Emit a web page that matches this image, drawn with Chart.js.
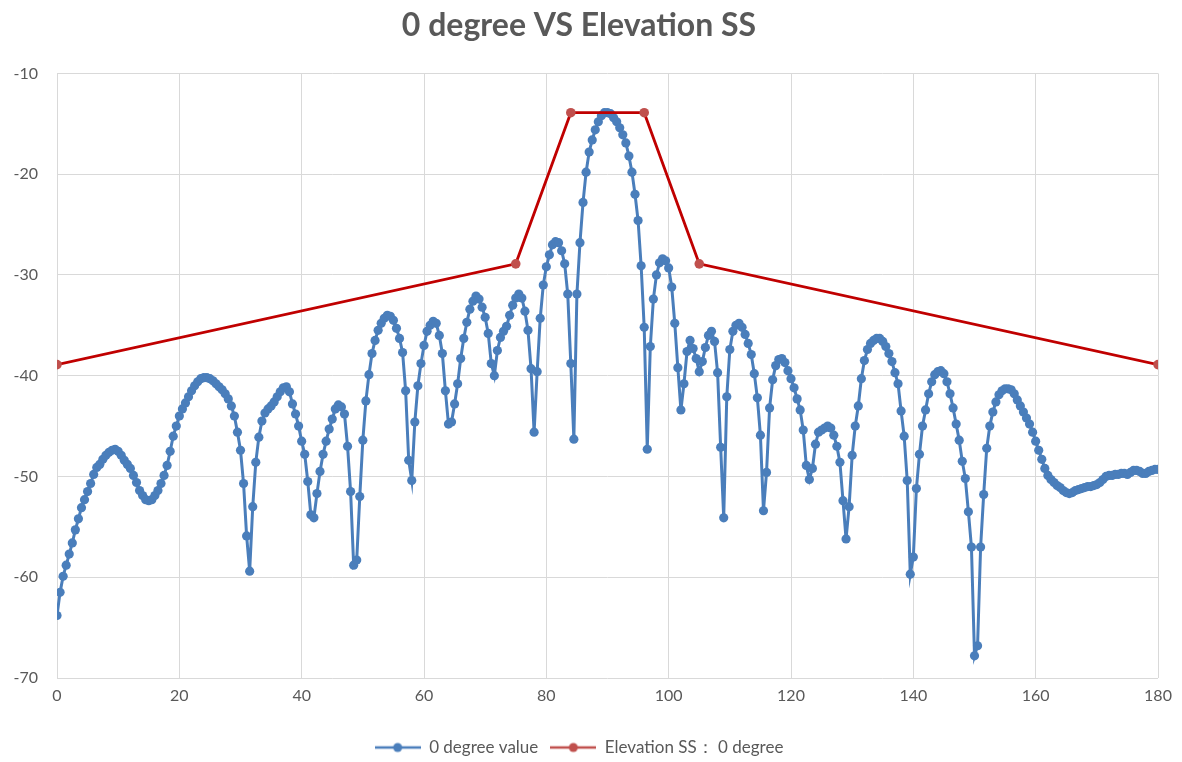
<!DOCTYPE html>
<html>
<head>
<meta charset="utf-8">
<title>0 degree VS Elevation SS</title>
<script src="https://cdn.jsdelivr.net/npm/chart.js@4"></script>
<style>
  html, body { margin: 0; padding: 0; background: #fff; }
  #chart { display: block; }
</style>
</head>
<body>
<canvas id="chart" width="1182" height="762"></canvas>
<script>
// angle step of the measured series (degrees)
const angleStep = 0.5;

// 0 degree value, one reading every 0.5 degree from 0 to 180
const zeroDegreeValues = [
  -63.8, -61.5, -59.9, -58.8, -57.7, -56.6, -55.3, -54.2, -53.1, -52.3,
  -51.5, -50.7, -49.8, -49.1, -48.8, -48.3, -47.9, -47.6, -47.4, -47.3,
  -47.5, -47.9, -48.4, -48.8, -49.2, -49.9, -50.6, -51.4, -51.9, -52.3,
  -52.4, -52.3, -51.9, -51.4, -50.7, -49.9, -48.9, -47.5, -46.0, -45.0,
  -44.0, -43.3, -42.7, -42.1, -41.5, -41.0, -40.6, -40.3, -40.2, -40.2,
  -40.3, -40.5, -40.8, -41.1, -41.4, -41.8, -42.3, -43.0, -44.0, -45.6,
  -47.4, -50.7, -55.9, -59.4, -53.0, -48.6, -46.1, -44.5, -43.7, -43.3,
  -43.0, -42.6, -42.1, -41.6, -41.2, -41.1, -41.6, -42.8, -43.8, -45.0,
  -46.5, -47.8, -50.5, -53.8, -54.1, -51.7, -49.5, -47.8, -46.5, -45.3,
  -44.3, -43.3, -42.9, -43.1, -43.8, -47.0, -51.5, -58.8, -58.3, -52.0,
  -46.4, -42.5, -39.9, -37.8, -36.5, -35.5, -34.8, -34.3, -34.0, -34.1,
  -34.5, -35.3, -36.3, -37.7, -41.5, -48.4, -50.4, -44.6, -41.0, -38.8,
  -37.0, -35.6, -35.0, -34.6, -34.8, -36.0, -37.8, -41.5, -44.8, -44.6,
  -42.8, -40.8, -38.3, -36.3, -34.7, -33.4, -32.6, -32.1, -32.4, -33.2,
  -34.2, -35.8, -38.8, -40.0, -37.5, -36.2, -35.6, -35.1, -34.0, -33.0,
  -32.3, -31.9, -32.3, -33.6, -35.5, -39.3, -45.6, -39.6, -34.3, -31.0,
  -29.2, -28.0, -27.0, -26.7, -26.8, -27.6, -28.9, -31.9, -38.8, -46.3,
  -31.9, -26.8, -22.8, -19.8, -17.8, -16.6, -15.6, -14.8, -14.2, -13.9,
  -13.9, -14.0, -14.4, -14.8, -15.4, -16.1, -16.9, -18.2, -19.8, -22.0,
  -24.6, -29.1, -35.2, -47.3, -37.1, -32.4, -30.0, -28.8, -28.4, -28.6,
  -29.3, -31.2, -34.8, -39.2, -43.4, -40.8, -37.6, -36.5, -37.3, -38.3,
  -39.6, -38.6, -37.2, -36.0, -35.6, -36.6, -39.7, -47.1, -54.1, -42.1,
  -37.4, -35.6, -35.0, -34.8, -35.2, -35.9, -36.8, -37.9, -39.8, -42.2,
  -45.9, -53.4, -49.6, -43.2, -40.4, -39.0, -38.4, -38.3, -38.7, -39.5,
  -40.3, -41.2, -42.3, -43.4, -45.4, -48.9, -50.3, -49.2, -46.8, -45.6,
  -45.4, -45.2, -45.0, -45.2, -45.9, -47.0, -48.6, -52.4, -56.2, -53.0,
  -47.9, -45.0, -43.0, -40.3, -38.5, -37.4, -36.8, -36.5, -36.3, -36.3,
  -36.6, -37.1, -37.8, -38.6, -39.7, -40.8, -43.5, -46.0, -50.4, -59.7,
  -58.0, -51.2, -47.8, -45.0, -43.4, -41.8, -40.6, -39.9, -39.6, -39.5,
  -39.8, -40.6, -41.8, -43.2, -44.8, -46.4, -48.5, -50.2, -53.5, -57.0,
  -67.8, -66.8, -57.0, -51.8, -47.2, -45.0, -43.6, -42.6, -41.9, -41.5,
  -41.3, -41.3, -41.4, -41.8, -42.4, -43.0, -43.6, -44.2, -44.8, -45.6,
  -46.5, -47.4, -48.3, -49.2, -49.9, -50.3, -50.6, -50.9, -51.1, -51.4,
  -51.6, -51.7, -51.6, -51.4, -51.3, -51.2, -51.1, -51.0, -51.0, -50.9,
  -50.8, -50.6, -50.3, -50.0, -49.9, -49.9, -49.8, -49.8, -49.7, -49.7,
  -49.8, -49.6, -49.4, -49.4, -49.5, -49.7, -49.7, -49.5, -49.4, -49.3,
  -49.3
];

// Elevation SS mask: 0 degree
const maskAngles = [0, 75, 84, 96, 105, 180];
const maskValues = [-38.9, -28.9, -13.9, -13.9, -28.9, -38.9];

const xTicks = [0, 20, 40, 60, 80, 100, 120, 140, 160, 180];
const yTicks = [-70, -60, -50, -40, -30, -20, -10];

const seriesNames = ["0 degree value", "Elevation SS\uFF1A 0 degree"];

const BLUE = "#4a7ebb";
const RED_LINE = "#c00000";
const RED_MARK = "#c0504d";
const TEXT = "#595959";
const GRID = "#d9d9d9";
const FONT = "Lato, 'Open Sans', sans-serif";

const zeroPoints = zeroDegreeValues.map((v, i) => ({ x: i * angleStep, y: v }));
const maskPoints = maskValues.map((v, i) => ({ x: maskAngles[i], y: v }));

// little line + dot legend symbol, like the spreadsheet legend
function legendSymbol(lineColor, dotColor) {
  const c = document.createElement("canvas");
  c.width = 46;
  c.height = 12;
  const g = c.getContext("2d");
  g.strokeStyle = lineColor;
  g.lineWidth = 2.5;
  g.beginPath();
  g.moveTo(0, 6);
  g.lineTo(46, 6);
  g.stroke();
  g.fillStyle = dotColor;
  g.beginPath();
  g.arc(23, 6, 4.5, 0, Math.PI * 2);
  g.fill();
  return c;
}

const symbols = [legendSymbol(BLUE, BLUE), legendSymbol(RED_MARK, RED_MARK)];

new Chart(document.getElementById("chart"), {
  type: "scatter",
  data: {
    datasets: [
      {
        label: seriesNames[0],
        data: zeroPoints,
        showLine: true,
        borderColor: BLUE,
        backgroundColor: BLUE,
        borderWidth: 3,
        pointRadius: 4.6,
        pointBorderWidth: 0,
        pointBackgroundColor: BLUE,
        order: 2,
      },
      {
        label: seriesNames[1],
        data: maskPoints,
        showLine: true,
        borderColor: RED_LINE,
        backgroundColor: RED_MARK,
        borderWidth: 2.8,
        pointRadius: 4.8,
        pointBorderWidth: 0,
        pointBackgroundColor: RED_MARK,
        order: 1,
      },
    ],
  },
  options: {
    responsive: false,
    animation: false,
    layout: {
      padding: { left: 0, right: 24, top: 0, bottom: -4 },
    },
    plugins: {
      title: {
        display: true,
        text: "0 degree VS Elevation SS",
        color: TEXT,
        font: { family: FONT, size: 32, weight: "bold" },
        padding: { top: 6, bottom: 29 },
      },
      legend: {
        position: "bottom",
        labels: {
          color: TEXT,
          font: { family: FONT, size: 17 },
          usePointStyle: true,
          pointStyleWidth: 46,
          boxHeight: 12,
          padding: 12,
          sort: (a, b) => a.datasetIndex - b.datasetIndex,
          generateLabels(chart) {
            const items = Chart.defaults.plugins.legend.labels.generateLabels(chart);
            return items.map((item) => {
              item.pointStyle = symbols[item.datasetIndex];
              return item;
            });
          },
        },
      },
      tooltip: { enabled: false },
    },
    scales: {
      x: {
        type: "linear",
        min: 0,
        max: 180,
        afterBuildTicks(scale) {
          scale.ticks = xTicks.map((v) => ({ value: v }));
        },
        ticks: {
          color: TEXT,
          font: { family: FONT, size: 16 },
          padding: 8,
          maxRotation: 0,
        },
        grid: { color: GRID, lineWidth: 1, drawTicks: false },
        border: { display: false },
        afterFit(scale) {
          scale.height = 49;
        },
      },
      y: {
        min: -70,
        max: -10,
        afterBuildTicks(scale) {
          scale.ticks = yTicks.map((v) => ({ value: v }));
        },
        ticks: {
          color: TEXT,
          font: { family: FONT, size: 16 },
          padding: 19,
        },
        grid: { color: GRID, lineWidth: 1, drawTicks: false },
        border: { display: false },
        afterFit(scale) {
          scale.width = 57;
        },
      },
    },
  },
});
</script>
</body>
</html>
